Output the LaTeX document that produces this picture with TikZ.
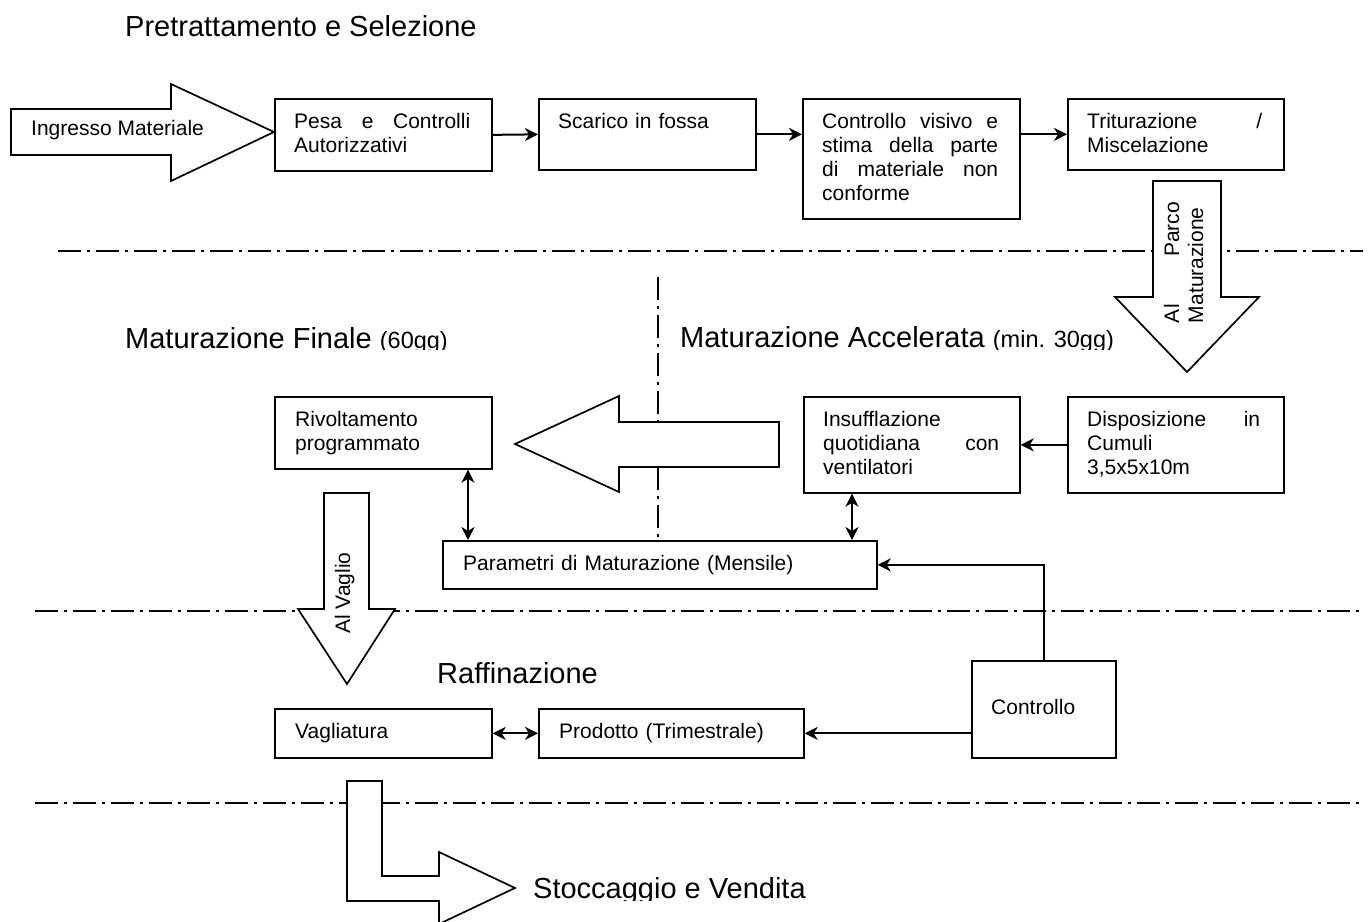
\documentclass[tikz,border=0pt]{standalone}
\usepackage{fontspec}
\setmainfont{Liberation Sans}
\usetikzlibrary{arrows.meta}
% a fully justified line of the current line width (spaces may stretch)
\newcommand{\jl}[1]{\makebox[\linewidth][s]{\spaceskip=0pt\xspaceskip=0pt\relax #1}}

\begin{document}
\begin{tikzpicture}[x=1pt,y=-1pt,
  box/.style={draw, line width=1.7pt, inner sep=0pt, anchor=north west},
  boxtext/.style={inner sep=0pt, anchor=north west, align=left,
    font=\fontsize{21}{24}\selectfont},
  heading/.style={inner sep=0pt, anchor=base west, font=\fontsize{29}{34}\selectfont},
  bigarrow/.style={draw, fill=white, line width=1.7pt, line join=miter},
  sep/.style={line width=2.2pt, dash pattern=on 23pt off 6pt on 3pt off 6pt},
  tip/.tip={Stealth[length=13pt,width=13pt,inset=4pt]},
  conn/.style={line width=2pt, -tip},
  dconn/.style={line width=2pt, tip-tip},
]
\useasboundingbox (0,0) rectangle (1368,921);

% ---- phase separators ----
\draw[sep] (58,251) -- (1363,251);
\draw[sep] (35,611) -- (1363,611);
\draw[sep] (35,803) -- (1363,803);

% ---- boxes ----
\node[box, minimum width=217pt, minimum height=72pt]  (pesa)    at (274,98)  {};
\node[box, minimum width=217pt, minimum height=71pt]  (scarico) at (538,98)  {};
\node[box, minimum width=217pt, minimum height=120pt] (cv)      at (802,98)  {};
\node[box, minimum width=216pt, minimum height=71pt]  (trit)    at (1067,98) {};
\node[box, minimum width=217pt, minimum height=72pt]  (riv)     at (274,396) {};
\node[box, minimum width=216pt, minimum height=96pt]  (insuf)   at (803,396) {};
\node[box, minimum width=216pt, minimum height=96pt]  (disp)    at (1067,396) {};
\node[box, minimum width=434pt, minimum height=48pt]  (param)   at (442,540) {};
\node[box, minimum width=217pt, minimum height=49pt]  (vagl)    at (274,708) {};
\node[box, minimum width=265pt, minimum height=49pt]  (prod)    at (538,708) {};
\node[box, minimum width=144pt, minimum height=97pt]  (ctrl)    at (971,660) {};

% ---- vertical separator between final and accelerated maturation ----
\coordinate (axis-top) at (658,277);
\draw[sep] (axis-top) -- (axis-top |- param.north);

% ---- block arrows ----
\draw[bigarrow] (11,109) -- (171,109) -- (171,84) -- (274,132) -- (171,181)
  -- (171,155) -- (11,155) -- cycle;
\draw[bigarrow] (1153,181) -- (1221,181) -- (1221,297) -- (1259,297) -- (1187,372)
  -- (1115,297) -- (1153,297) -- cycle;
\draw[bigarrow] (779,422) -- (619,422) -- (619,396) -- (515,444) -- (619,492)
  -- (619,467) -- (779,467) -- cycle;
\draw[bigarrow] (324,493) -- (369,493) -- (369,609) -- (395,609) -- (347,684)
  -- (298,609) -- (324,609) -- cycle;
\draw[bigarrow] (347,781) -- (382,781) -- (382,876) -- (439,876) -- (439,852)
  -- (515,888) -- (439,924) -- (439,901) -- (347,901) -- cycle;

% ---- texts inside the boxes ----
\node[boxtext, text width=176pt] (pesa-t) at ([shift={(20,13.7)}]pesa.north west)
  {\strut\jl{Pesa e Controlli}\\Autorizzativi};
\node[boxtext, text width=176pt] (scarico-t) at ([shift={(20,13.7)}]scarico.north west)
  {\strut Scarico in fossa};
\node[boxtext, text width=176pt] (cv-t) at ([shift={(20,13.7)}]cv.north west)
  {\strut\jl{Controllo visivo e}\\\jl{stima della parte}\\\jl{di materiale non}\\conforme};
\node[boxtext, text width=175pt] (trit-t) at ([shift={(20,13.7)}]trit.north west)
  {\strut\jl{Triturazione /}\\Miscelazione};
\node[boxtext, text width=176pt] (riv-t) at ([shift={(21,13.7)}]riv.north west)
  {\strut Rivoltamento\\programmato};
\node[boxtext, text width=176pt] (insuf-t) at ([shift={(20,13.7)}]insuf.north west)
  {\strut Insufflazione\\\jl{quotidiana con}\\ventilatori};
\node[boxtext, text width=173pt] (disp-t) at ([shift={(20,13.7)}]disp.north west)
  {\strut\jl{Disposizione in}\\Cumuli\\3,5x5x10m};
\node[boxtext, text width=390pt] (param-t) at ([shift={(21,13.7)}]param.north west)
  {\strut Parametri di Maturazione (Mensile)};
\node[boxtext, text width=176pt] (vagl-t) at ([shift={(21,13.7)}]vagl.north west)
  {\strut Vagliatura};
\node[boxtext, text width=225pt] (prod-t) at ([shift={(21,13.7)}]prod.north west)
  {\strut Prodotto (Trimestrale)};
\node[boxtext, text width=110pt] (ctrl-t) at ([shift={(20,13.7)}]ctrl.north west)
  {\strut\\Controllo};

% ---- texts on the block arrows ----
\node[inner sep=0pt, anchor=base west, font=\fontsize{21}{24}\selectfont]
  (ingresso-t) at (31,135) {Ingresso Materiale};
\node[rotate=90, inner sep=0pt, text width=121pt, align=left,
  font=\fontsize{21}{24}\selectfont] (alparco-t) at (1183.5,262.5)
  {\jl{Al Parco}\\Maturazione};
\node[rotate=90, inner sep=0pt, anchor=base, font=\fontsize{21}{24}\selectfont]
  (alvaglio-t) at (350,593) {Al Vaglio};

% ---- connectors ----
\draw[conn] (pesa.east) -- (scarico.west);
\draw[conn] (scarico.east) -- (scarico.east -| cv.west);
\draw[conn] (trit.west -| cv.east) -- (trit.west);
\draw[conn] (disp.west) -- (insuf.east);
\coordinate (insuf-port) at ([xshift=49pt]insuf.south west);
\draw[dconn] (insuf-port) -- (insuf-port |- param.north);
\coordinate (riv-port) at ([xshift=194pt]riv.south west);
\draw[dconn] (riv-port) -- (riv-port |- param.north);
\draw[conn] (ctrl.north) |- (param.east);
\draw[conn] (prod.east -| ctrl.west) -- (prod.east);
\draw[dconn] (vagl.east) -- (prod.west);

% ---- phase headings ----
\node[heading] (h-pre) at (125,36) {Pretrattamento e Selezione};
\begin{scope}
  \clip (100,300) rectangle (520,349.5);
  \node[heading] (h-fin) at (125,348)
    {Maturazione Finale {\fontsize{23.5}{28}\selectfont(60gg)}};
\end{scope}
\begin{scope}
  \clip (660,300) rectangle (1140,349.5);
  \node[heading] (h-acc) at (680,347)
    {Maturazione Accelerata {\fontsize{23.5}{28}\selectfont(min. 30gg)}};
\end{scope}
\node[heading] (h-raf) at (437,683) {Raffinazione};
\begin{scope}
  \clip (520,850) rectangle (860,900.5);
  \node[heading] (h-sto) at (533,898) {Stoccaggio e Vendita};
\end{scope}
\end{tikzpicture}
\end{document}
